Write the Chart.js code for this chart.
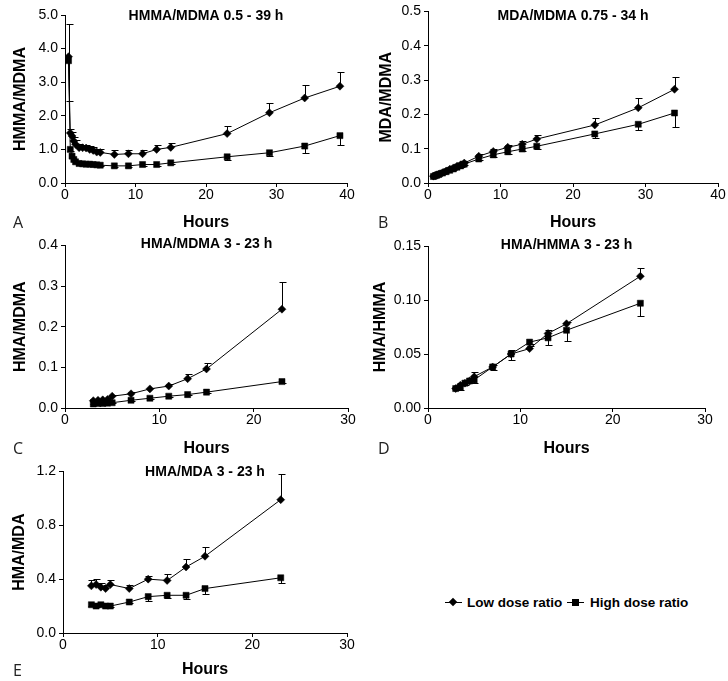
<!DOCTYPE html>
<html><head><meta charset="utf-8">
<script src="https://cdn.jsdelivr.net/npm/chart.js@4.4.1/dist/chart.umd.min.js"></script>
<style>
html,body{margin:0;padding:0;background:#fff}
body{width:728px;height:681px;position:relative;overflow:hidden;font-family:"Liberation Sans",Arial,sans-serif}
canvas{position:absolute}
.plbl{position:absolute;font-family:"Open Sans",sans-serif;font-size:16px;color:#222;line-height:1;transform:translateY(-50%)}
.legtxt{position:absolute;font-weight:bold;font-size:13.5px;color:#000;line-height:1;transform:translateY(-50%);white-space:nowrap}
.legln{position:absolute;height:1px;background:#000}
.legdia{position:absolute;width:6px;height:6px;background:#000;transform:rotate(45deg)}
.legsq{position:absolute;width:7px;height:7px;background:#000}
</style></head><body>
<canvas id="cA" width="370" height="234" style="left:0;top:0"></canvas>
<canvas id="cB" width="360" height="234" style="left:368px;top:0"></canvas>
<canvas id="cC" width="370" height="226" style="left:0;top:234px"></canvas>
<canvas id="cD" width="360" height="226" style="left:368px;top:234px"></canvas>
<canvas id="cE" width="370" height="221" style="left:0;top:460px"></canvas>

<div class="plbl" style="left:13px;top:222px">A</div>
<div class="plbl" style="left:378px;top:222px">B</div>
<div class="plbl" style="left:13px;top:448px">C</div>
<div class="plbl" style="left:378px;top:448px">D</div>
<div class="plbl" style="left:13px;top:670px">E</div>

<div class="legln" style="left:445px;top:602px;width:17px"></div>
<div class="legdia" style="left:450px;top:599px"></div>
<div class="legtxt" id="leg1" style="left:467px;top:603px"></div>
<div class="legln" style="left:567px;top:602px;width:17px"></div>
<div class="legsq" style="left:572px;top:599px"></div>
<div class="legtxt" id="leg2" style="left:590px;top:603px"></div>

<script>
// ---------- DATA ----------
const seriesNames = ['Low dose ratio', 'High dose ratio'];
const xTitle = 'Hours';

// Panel A: HMMA/MDMA
const timesA = [0.5, 0.75, 1, 1.25, 1.5, 2, 2.5, 3, 3.5, 4, 4.5, 5, 7, 9, 11, 13, 15, 23, 29, 34, 39];
const lowA = [3.76, 1.49, 1.40, 1.25, 1.15, 1.05, 1.05, 1.04, 1.00, 0.97, 0.92, 0.91, 0.85, 0.87, 0.87, 1.00, 1.06, 1.47, 2.09, 2.53, 2.88];
const lowAErr = [0.98, 0.13, 0.12, 0.12, 0.12, 0.10, 0.08, 0.08, 0.10, 0.10, 0.09, 0.09, 0.12, 0.10, 0.12, 0.14, 0.13, 0.22, 0.28, 0.38, 0.43];
const highA = [3.64, 1.00, 0.80, 0.70, 0.63, 0.58, 0.57, 0.56, 0.56, 0.55, 0.54, 0.53, 0.51, 0.51, 0.55, 0.55, 0.60, 0.78, 0.90, 1.10, 1.41];
const highAErr = [1.19, 0.05, 0.05, 0.04, 0.03, 0.03, 0.03, 0.03, 0.03, 0.03, 0.03, 0.03, 0.03, 0.03, 0.03, 0.03, 0.03, 0.10, 0.10, 0.20, 0.27];

// Panel B: MDA/MDMA
const timesB = [0.75, 1, 1.25, 1.5, 2, 2.5, 3, 3.5, 4, 4.5, 5, 7, 9, 11, 13, 15, 23, 29, 34];
const lowB = [0.020, 0.022, 0.024, 0.026, 0.030, 0.035, 0.040, 0.044, 0.049, 0.053, 0.058, 0.078, 0.092, 0.104, 0.113, 0.128, 0.169, 0.219, 0.273];
const lowBErr = [0.002, 0.002, 0.002, 0.002, 0.002, 0.002, 0.003, 0.003, 0.003, 0.003, 0.004, 0.006, 0.007, 0.008, 0.010, 0.012, 0.019, 0.028, 0.037];
const highB = [0.019, 0.021, 0.023, 0.025, 0.029, 0.033, 0.037, 0.041, 0.046, 0.050, 0.055, 0.070, 0.082, 0.091, 0.099, 0.107, 0.143, 0.171, 0.204];
const highBErr = [0.002, 0.002, 0.002, 0.002, 0.002, 0.002, 0.002, 0.003, 0.003, 0.003, 0.003, 0.004, 0.006, 0.007, 0.006, 0.007, 0.012, 0.018, 0.040];

// Panels C-E share time points
const timesCDE = [3, 3.5, 4, 4.5, 5, 7, 9, 11, 13, 15, 23];

// Panel C: HMA/MDMA
const lowC = [0.018, 0.019, 0.020, 0.021, 0.029, 0.035, 0.047, 0.054, 0.072, 0.096, 0.243];
const lowCErr = [0.003, 0.003, 0.003, 0.003, 0.003, 0.004, 0.003, 0.006, 0.012, 0.015, 0.068];
const highC = [0.010, 0.011, 0.011, 0.012, 0.013, 0.019, 0.024, 0.029, 0.033, 0.039, 0.065];
const highCErr = [0.001, 0.001, 0.001, 0.001, 0.001, 0.001, 0.001, 0.002, 0.002, 0.002, 0.003];

// Panel D: HMA/HMMA
const lowD = [0.018, 0.021, 0.023, 0.025, 0.029, 0.038, 0.050, 0.055, 0.069, 0.078, 0.122];
const lowDErr = [0.001, 0.002, 0.002, 0.002, 0.004, 0.002, 0.004, 0.002, 0.003, 0.002, 0.008];
const highD = [0.018, 0.019, 0.023, 0.025, 0.026, 0.038, 0.050, 0.061, 0.065, 0.072, 0.097];
const highDErr = [0.001, 0.002, 0.002, 0.002, 0.003, 0.003, 0.006, 0.002, 0.007, 0.010, 0.012];

// Panel E: HMA/MDA
const lowE = [0.35, 0.36, 0.34, 0.33, 0.36, 0.33, 0.40, 0.39, 0.49, 0.57, 0.99];
const lowEErr = [0.04, 0.04, 0.03, 0.03, 0.03, 0.03, 0.025, 0.05, 0.06, 0.07, 0.19];
const highE = [0.21, 0.20, 0.21, 0.20, 0.20, 0.23, 0.27, 0.28, 0.28, 0.33, 0.41];
const highEErr = [0.01, 0.01, 0.01, 0.01, 0.01, 0.01, 0.03, 0.02, 0.03, 0.04, 0.04];

const panelTitles = ['HMMA/MDMA 0.5 - 39 h', 'MDA/MDMA 0.75 - 34 h', 'HMA/MDMA 3 - 23 h', 'HMA/HMMA 3 - 23 h', 'HMA/MDA 3 - 23 h'];
const yTitles = ['HMMA/MDMA', 'MDA/MDMA', 'HMA/MDMA', 'HMA/HMMA', 'HMA/MDA'];
const yMax = [5, 0.5, 0.4, 0.15, 1.2];
const yStep = [1, 0.1, 0.1, 0.05, 0.4];
const yDecimals = [1, 1, 1, 2, 1];
const xMax = [40, 40, 30, 30, 30];

// ---------- RENDERING ----------
const FONT = '"Liberation Sans", Arial, sans-serif';
document.getElementById('leg1').textContent = seriesNames[0];
document.getElementById('leg2').textContent = seriesNames[1];

const errorBars = {
  id: 'errorBars',
  beforeDatasetsDraw(chart) {
    const {ctx, scales: {x, y}} = chart;
    ctx.save();
    ctx.strokeStyle = '#000';
    ctx.lineWidth = 1;
    chart.data.datasets.forEach(ds => {
      const err = ds.errValues, dir = ds.errDir;
      ds.data.forEach((p, i) => {
        const e = err[i];
        if (!e) return;
        const px = Math.round(x.getPixelForValue(p.x)) + 0.5;
        const py0 = y.getPixelForValue(p.y);
        const pyc = Math.round(y.getPixelForValue(p.y + dir * e)) + 0.5;
        ctx.beginPath();
        ctx.moveTo(px, py0); ctx.lineTo(px, pyc);
        ctx.moveTo(px - 3, pyc); ctx.lineTo(px + 4, pyc);
        ctx.stroke();
      });
    });
    ctx.restore();
  }
};

const panelTitle = {
  id: 'panelTitle',
  afterDraw(chart, args, opts) {
    const {ctx, chartArea} = chart;
    ctx.save();
    ctx.font = 'bold 14px ' + FONT;
    ctx.fillStyle = '#000';
    ctx.textAlign = 'center';
    ctx.textBaseline = 'middle';
    ctx.fillText(opts.text, (chartArea.left + chartArea.right) / 2, opts.y);
    ctx.restore();
  }
};

function pts(xs, ys) { return xs.map((x, i) => ({x: x, y: ys[i]})); }

function makePanel(idx, canvasId, times, low, lowErr, high, highErr, geo) {
  const canvas = document.getElementById(canvasId);
  const W = canvas.width, H = canvas.height;
  new Chart(canvas, {
    type: 'scatter',
    data: {
      datasets: [
        {label: seriesNames[0], data: pts(times, low), errValues: lowErr, errDir: 1,
         showLine: true, borderColor: '#000', borderWidth: 1, tension: 0,
         pointStyle: 'rectRot', pointRadius: 4, pointBackgroundColor: '#000', pointBorderColor: '#000', pointBorderWidth: 0.5},
        {label: seriesNames[1], data: pts(times, high), errValues: highErr, errDir: -1,
         showLine: true, borderColor: '#000', borderWidth: 1, tension: 0,
         pointStyle: 'rect', pointRadius: 4.3, pointBackgroundColor: '#000', pointBorderColor: '#000', pointBorderWidth: 0.5}
      ]
    },
    options: {
      responsive: false, animation: false, events: [],
      layout: {padding: {left: 0, top: geo.T, right: W - geo.R, bottom: 0}},
      plugins: {
        legend: {display: false}, tooltip: {enabled: false},
        panelTitle: {text: panelTitles[idx], y: geo.ty}
      },
      scales: {
        x: {
          type: 'linear', min: 0, max: xMax[idx],
          ticks: {stepSize: 10, color: '#000', font: {family: FONT, size: 14}, padding: 0, maxRotation: 0},
          grid: {drawOnChartArea: false, drawTicks: true, tickLength: 4, color: '#000'},
          border: {display: true, color: '#000', width: 1},
          title: {display: true, text: xTitle, color: '#000', font: {family: FONT, size: 16, weight: 'bold'}, padding: {top: 4, bottom: 2}},
          afterFit(s) { s.height = H - geo.B; }
        },
        y: {
          type: 'linear', min: 0, max: yMax[idx],
          ticks: {stepSize: yStep[idx], color: '#000', font: {family: FONT, size: 14}, padding: 3,
                  callback: v => Number(v).toFixed(yDecimals[idx])},
          grid: {drawOnChartArea: false, drawTicks: true, tickLength: 4, color: '#000'},
          border: {display: true, color: '#000', width: 1},
          title: {display: true, text: yTitles[idx], color: '#000', font: {family: FONT, size: 16, weight: 'bold'}, padding: {top: geo.yp, bottom: 0}},
          afterFit(s) { s.width = geo.L; }
        }
      }
    },
    plugins: [errorBars, panelTitle]
  });
}

makePanel(0, 'cA', timesA, lowA, lowAErr, highA, highAErr, {L: 65, T: 15, R: 347, B: 183, ty: 16, yp: 11});
makePanel(1, 'cB', timesB, lowB, lowBErr, highB, highBErr, {L: 60, T: 9, R: 350, B: 183, ty: 16, yp: 9});
makePanel(2, 'cC', timesCDE, lowC, lowCErr, highC, highCErr, {L: 65, T: 10, R: 348, B: 174, ty: 10, yp: 11});
makePanel(3, 'cD', timesCDE, lowD, lowDErr, highD, highDErr, {L: 60, T: 12, R: 337, B: 174, ty: 11, yp: 3});
makePanel(4, 'cE', timesCDE, lowE, lowEErr, highE, highEErr, {L: 63, T: 11, R: 347, B: 173, ty: 12, yp: 10});
</script>
</body></html>
